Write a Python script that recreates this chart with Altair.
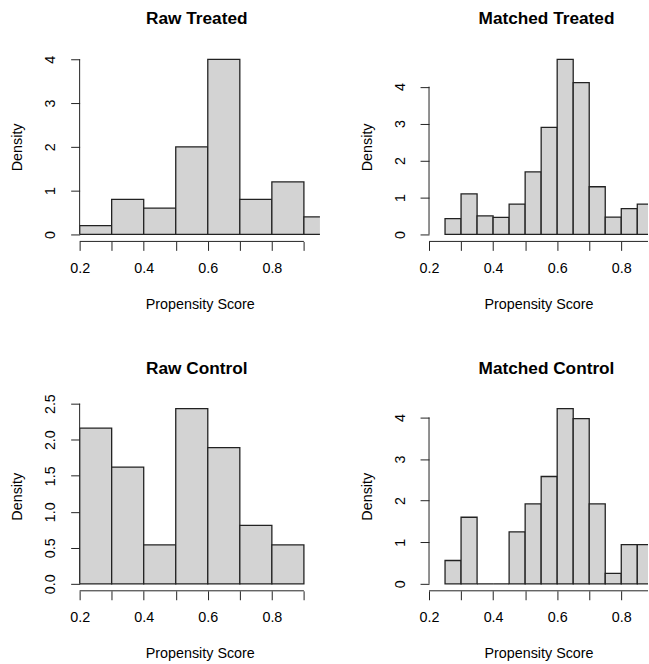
import altair as alt
import pandas as pd

FONT = "Liberation Sans"

# ---- data (density per bin) ----
rt_start = [0.2, 0.3, 0.4, 0.5, 0.6, 0.7, 0.8, 0.9]
rt_density = [0.2, 0.8, 0.6, 2.0, 4.0, 0.8, 1.2, 0.4]

mt_start = [0.25, 0.30, 0.35, 0.40, 0.45, 0.50, 0.55, 0.60, 0.65, 0.70, 0.75, 0.80, 0.85]
mt_density = [0.43, 1.10, 0.50, 0.46, 0.82, 1.69, 2.90, 4.74, 4.11, 1.29, 0.47, 0.70, 0.82]

rc_start = [0.2, 0.3, 0.4, 0.5, 0.6, 0.7, 0.8]
rc_density = [2.16, 1.62, 0.54, 2.43, 1.89, 0.81, 0.54]

mc_start = [0.25, 0.30, 0.35, 0.40, 0.45, 0.50, 0.55, 0.60, 0.65, 0.70, 0.75, 0.80, 0.85]
mc_density = [0.56, 1.60, 0.0, 0.0, 1.25, 1.92, 2.58, 4.21, 3.97, 1.92, 0.25, 0.94, 0.94]

x_ticks_left = [0.2, 0.3, 0.4, 0.5, 0.6, 0.7, 0.8, 0.9]
x_ticks_right = [0.2, 0.3, 0.4, 0.5, 0.6, 0.7, 0.8]
y_ticks_int = [0, 1, 2, 3, 4]
y_ticks_half = [0.0, 0.5, 1.0, 1.5, 2.0, 2.5]

INK = "#222222"
X_LABEL_EXPR = "abs(round(datum.value * 10)) % 2 == 0 ? datum.label : ''"


def panel(title, starts, dens, binw, yticks, yfmt, xticks, xmax, axis_end, width,
          title_dx, title_offset):
    ymax = max(dens)
    ylo, yhi = -0.04 * ymax, 1.04 * ymax
    df = pd.DataFrame({
        "start": starts,
        "end": [round(s + binw, 4) for s in starts],
        "density": dens,
        "base": [0.0] * len(starts),
    })
    xs = alt.Scale(domain=[0.2, xmax], nice=False, zero=False)
    ys = alt.Scale(domain=[ylo, yhi], nice=False, zero=False)
    xaxis = alt.Axis(
        values=xticks, tickCount=50, format=".1f", labelExpr=X_LABEL_EXPR,
        domain=False, grid=False,
        tickSize=9, tickColor=INK, tickWidth=1, labelFontSize=14.4, labelFont=FONT,
        labelColor="black", labelPadding=11, labelFlush=False, labelOverlap=False,
        title="Propensity Score", titleFont=FONT, titleFontSize=14.4,
        titleFontWeight="normal", titleColor="black", titlePadding=23,
    )
    yaxis = alt.Axis(
        values=yticks, tickCount=50, format=yfmt, domain=False, grid=False,
        tickSize=9, tickColor=INK, tickWidth=1, labelFontSize=14.4, labelFont=FONT,
        labelColor="black", labelAngle=270, labelAlign="center", labelBaseline="bottom",
        labelPadding=13, labelFlush=False, labelOverlap=False, labelBound=False,
        title="Density", titleFont=FONT, titleFontSize=14.4,
        titleFontWeight="normal", titleColor="black", titlePadding=18,
    )
    bars = alt.Chart(df).mark_rect(
        fill="#D3D3D3", stroke=INK, strokeWidth=1.3, clip=True
    ).encode(
        x=alt.X("start:Q", scale=xs, axis=xaxis),
        x2="end",
        y=alt.Y("density:Q", scale=ys, axis=yaxis),
        y2="base",
    )
    xl_df = pd.DataFrame({"start": [0.2], "end": [axis_end], "density": [ylo]})
    xline = alt.Chart(xl_df).mark_rule(color=INK, strokeWidth=1).encode(
        x=alt.X("start:Q", scale=xs), x2="end",
        y=alt.Y("density:Q", scale=ys)
    )
    yl_df = pd.DataFrame({"start": [0.2], "density": [0.0], "base": [float(yticks[-1])]})
    yline = alt.Chart(yl_df).mark_rule(color=INK, strokeWidth=1).encode(
        x=alt.X("start:Q", scale=xs),
        y=alt.Y("density:Q", scale=ys), y2="base"
    )
    return alt.layer(bars, xline, yline).properties(
        width=width, height=190,
        title=alt.TitleParams(
            title, font=FONT, fontSize=17.3, fontWeight="bold", color="black",
            anchor="middle", frame="group", offset=title_offset, dx=title_dx,
        ),
    )


LW = 241.4
RW = 220.0
RMAX = 0.2 + RW / 321.9

p1 = panel("Raw Treated", rt_start, rt_density, 0.1, y_ticks_int, "d",
           x_ticks_left, 0.95, 0.9, LW, -3, 25)
p2 = panel("Matched Treated", mt_start, mt_density, 0.05, y_ticks_int, "d",
           x_ticks_right, RMAX, RMAX, RW, 8, 25)
p3 = panel("Raw Control", rc_start, rc_density, 0.1, y_ticks_half, ".1f",
           x_ticks_left, 0.95, 0.9, LW, -3, 16.5)
p4 = panel("Matched Control", mc_start, mc_density, 0.05, y_ticks_int, "d",
           x_ticks_right, RMAX, RMAX, RW, 8, 25)

chart = alt.vconcat(
    alt.hconcat(p1, p2, spacing=38),
    alt.hconcat(p3, p4, spacing=38),
    spacing=47,
).properties(
    padding={"left": 9, "top": 8, "right": 0, "bottom": 0},
    background="white",
).configure_view(
    stroke="transparent"
).configure_axis(
    labelOverlap=False
)

chart.save("out.html", embed_options={"renderer": "svg", "actions": False})
